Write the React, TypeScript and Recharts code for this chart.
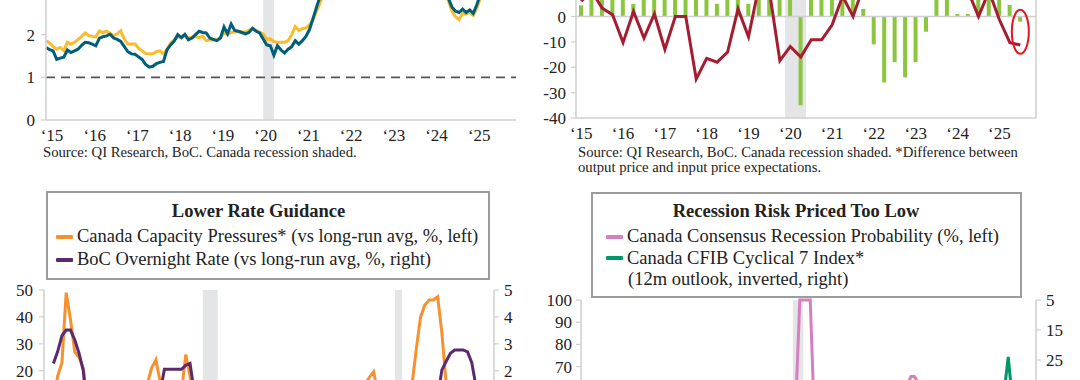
import React from 'react';
import {
  LineChart,
  ComposedChart,
  Line,
  Bar,
  XAxis,
  YAxis,
  ReferenceArea,
  ReferenceLine,
  ReferenceDot,
} from 'recharts';

const FONT = '"Liberation Serif", "Times New Roman", serif';
const AXIS_GREY = '#cfcfcf';
const INK = '#222';
const SHADE = '#e4e5e7';
const TICK_FS = 17;
const LEGEND_FS = 18.5;
const SOURCE_FS = 14.7;

const yearLabels = ['‘15', '‘16', '‘17', '‘18', '‘19', '‘20', '‘21', '‘22', '‘23', '‘24', '‘25'];
const yearTicks = yearLabels.map((_, k) => k * 12); // months since Jan 2015
const covidRecession = [61, 64]; // Feb 2020 - Apr 2020, months since Jan 2015

// ---------- top left: core inflation measures, monthly from Jan 2015
const trimMeasure = [
  1.86, 1.8, 1.72, 1.66, 1.7, 1.63, 1.82, 1.78, 1.82, 1.89, 1.96, 2.04,
  1.98, 1.96, 1.95, 2.09, 2.05, 2.08, 2.03, 1.98, 2.02, 2.09, 1.89, 1.78,
  1.78, 1.78, 1.68, 1.62, 1.56, 1.55, 1.55, 1.6, 1.62, 1.55, 1.66, 1.8,
  1.88, 1.94, 1.96, 1.95, 1.92, 1.94, 1.96, 1.93, 1.96, 1.86, 1.88, 1.87,
  1.88, 1.93, 2.04, 2.0, 2.05, 2.06, 2.07, 2.07, 2.06, 2.1, 2.15, 2.1,
  2.06, 2.02, 1.89, 1.9, 1.84, 1.82, 1.82, 1.82, 1.86, 2.0, 2.19, 2.1,
  2.14, 2.16, 2.23, 2.35, 2.55, 2.75, 3.0, 3.2, 3.4, 3.6, 3.8, 4.1,
  4.4, 4.7, 5.0, 5.2, 5.4, 5.5, 5.4, 5.3, 5.3, 5.2, 5.1, 5.1,
  5.0, 4.8, 4.5, 4.3, 4.0, 3.8, 3.7, 3.8, 3.8, 3.6, 3.5, 3.5,
  3.2, 3.1, 3.0, 2.95, 2.95, 2.8, 2.55, 2.42, 2.35, 2.5, 2.48, 2.52,
  2.45, 2.62, 2.85, 2.95, 3.0, 3.0, 3.05,
];
const medianMeasure = [
  1.7, 1.65, 1.62, 1.42, 1.45, 1.47, 1.64, 1.58, 1.62, 1.66, 1.75, 1.82,
  1.81, 1.78, 1.74, 1.92, 1.95, 1.97, 2.01, 1.92, 1.89, 1.84, 1.72, 1.6,
  1.55, 1.54, 1.48, 1.42, 1.3, 1.24, 1.26, 1.32, 1.35, 1.37, 1.65, 1.76,
  1.85, 2.0, 1.93, 2.01, 1.88, 1.92, 2.0, 2.08, 2.05, 2.04, 1.92, 1.89,
  1.86, 1.92, 2.18, 2.02, 2.25, 2.1, 2.08, 2.05, 2.02, 2.05, 2.15, 2.08,
  2.04, 1.9, 1.76, 1.74, 1.52, 1.74, 1.64, 1.57, 1.66, 1.72, 1.86, 1.78,
  1.86, 1.96, 2.12, 2.38, 2.65, 2.9, 3.1, 3.3, 3.5, 3.6, 3.8, 4.0,
  4.2, 4.5, 4.8, 4.9, 5.1, 5.2, 5.1, 5.0, 5.0, 5.0, 4.9, 4.9,
  4.9, 4.7, 4.4, 4.2, 3.9, 3.7, 3.7, 3.9, 3.8, 3.6, 3.4, 3.5,
  3.2, 3.0, 3.0, 2.95, 3.0, 2.85, 2.65, 2.55, 2.52, 2.6, 2.52, 2.58,
  2.5, 2.7, 2.95, 3.0, 3.0, 3.05, 3.1,
];
const inflationRows = trimMeasure.map((v, i) => ({ m: i, trim: v, median: medianMeasure[i] }));
const inflationTicks = [0, 1, 2]; // the rest of the scale sits above the crop

// ---------- top right: BoC business outlook survey, quarterly 2015Q1 - 2025Q4
const bosYears = [2015, 2016, 2017, 2018, 2019, 2020, 2021, 2022, 2023, 2024, 2025];
const bosQuarters = bosYears.flatMap((y) => ['Q1', 'Q2', 'Q3', 'Q4'].map((q) => `${y}${q}`));
const bosBars = [
  4.4, 12, 9, 14, 11, 5, 10, 13, 12, 15, 17, 9,
  12, 5, 10, 14, 5, 12, 10, 9, 8, -35, 10, 14,
  16, 18, 12, 3, -11, -26, -18, -24, -18, -6, 10, 12,
  1, 1, 8, 12, 10, 4.6, -2, null,
];
const priceGap = [
  6, 10, 3.3, 0.7, -10.3, 2, -8.5, 1, -13, 0, 0, -24.6,
  -16.5, -18, -14, 3, -8, 12, 10, -17.4, -11.8, -16, -9.2, -9.2,
  -3.3, 8, 0, 12, 20, 25, 22, 18, 15, 12, 14, 10,
  12, 10, 0, 10, -1.3, -10.3, -11.2, null,
];
const bosRows = bosQuarters.map((q, i) => ({ q, bars: bosBars[i], gap: priceGap[i] }));
const bosTicks = [-40, -30, -20, -10, 0];

// ---------- bottom left: capacity pressures vs overnight rate, quarterly from 2000Q1
const capStartYear = 2000;
const capacityPressures = [
  8, 18, 23, 49, 39, 27, 25, 21, 8, 2, -5, -10,
  -15, -20, -18, -12, -5, 0, 5, 8, 10, 12, 15, 21,
  24, 16, 8, 6, 8, 10, 12, 26, 18, 5, -5, -20,
  -35, -40, -30, -18, -5, 0, 3, 5, 8, 10, 8, 5,
  3, 0, -3, -5, -8, -10, -8, -5, -2, 0, 2, 5,
  0, -5, -10, -12, -15, -10, -8, -5, 0, 5, 10, 12,
  14, 15, 17.5, 19.5, 12, 10, 8, 6, 0, -35, -20, -5,
  15, 28, 40, 44.4, 46.3, 46.3, 47.5, 34, 15, 6, 0, -5,
  -10, -12, -15, -14, -18, -20,
];
const overnightGap = [
  2.27, 2.71, 3.3, 3.51, 3.51, 3.15, 2.65, 2.0, 0.3, 0.2, 0.5, 0.5,
  0.8, 1.0, 0.5, 0.5, 0.3, 0.0, 0.2, 0.5, 0.5, 0.5, 0.8, 1.0,
  1.3, 1.2, 2.05, 2.05, 2.05, 2.05, 2.05, 2.2, 2.27, 1.2, 0.8, -0.5,
  -1.5, -2.0, -2.0, -2.0, -2.0, -1.7, -1.3, -1.2, -1.2, -1.2, -1.2, -1.2,
  -1.2, -1.2, -1.2, -1.2, -1.2, -1.2, -1.2, -1.2, -1.2, -1.2, -1.2, -1.2,
  -1.5, -1.7, -1.7, -1.7, -1.7, -1.7, -1.7, -1.7, -1.7, -1.7, -1.2, -1.2,
  -1.0, -1.0, -0.7, -0.5, -0.5, -0.5, -0.5, -0.5, -1.0, -2.0, -2.0, -2.0,
  -2.0, -2.0, -2.0, -2.0, -1.8, -0.8, 1.0, 2.03, 2.35, 2.65, 2.77, 2.77,
  2.77, 2.7, 2.3, 1.4, 0.6, 0.5,
];
const capRows = capacityPressures.map((v, i) => ({
  t: capStartYear + i / 4,
  cap: v,
  rate: overnightGap[i],
}));
const capRecessions = [
  [2008.75, 2009.625],
  [2020.0, 2020.42],
];
const capLeftTicks = [20, 30, 40, 50];
const capRightTicks = [2, 3, 4, 5];

// ---------- bottom right: recession probability vs CFIB, monthly from Jan 2015
const recessionProbability = [
  20, 20, 22, 25, 25, 28, 30, 30, 30, 28, 28, 25,
  30, 32, 30, 28, 28, 30, 30, 28, 25, 25, 25, 25,
  20, 20, 18, 18, 18, 18, 18, 18, 20, 20, 20, 20,
  20, 20, 22, 22, 25, 25, 25, 25, 25, 25, 28, 30,
  30, 30, 35, 35, 35, 35, 35, 38, 38, 35, 35, 30,
  25, 25, 60, 100, 100, 100, 100, 55, 45, 40, 40, 35,
  30, 30, 25, 20, 20, 20, 20, 20, 20, 20, 20, 20,
  20, 20, 25, 30, 35, 40, 45, 50, 55, 60, 62, 65.5,
  65.5, 63, 60, 60, 58, 55, 50, 50, 50, 48, 45, 40,
  40, 38, 35, 35, 33, 30, 30, 30, 28, 28, 30, 30,
  35, 40, 45, 55, 50, 45, 40,
];
const cfibCyclical = [
  62, 62, 61, 61, 60, 60, 60, 59, 59, 60, 60, 60,
  58, 58, 59, 59, 60, 61, 61, 61, 62, 62, 62, 63,
  64, 65, 65, 65, 66, 66, 66, 67, 66, 66, 65, 65,
  64, 64, 63, 63, 62, 62, 61, 61, 62, 61, 60, 60,
  60, 59, 59, 60, 60, 61, 60, 60, 59, 58, 58, 59,
  60, 60, 45, 38, 42, 46, 50, 52, 54, 55, 56, 58,
  60, 62, 64, 66, 67, 68, 68, 68, 67, 67, 66, 65,
  64, 64, 62, 60, 55, 50, 45, 43, 44, 45, 44, 43,
  44, 45, 46, 48, 50, 50, 51, 52, 51, 50, 50, 52,
  54, 55, 56, 56, 56, 55, 55, 56, 57, 57, 58, 58,
  52, 42, 34, 24, 36, 44, 48,
];
const riskRows = recessionProbability.map((v, i) => ({ m: i, prob: v, cfib: cfibCyclical[i] }));
const probTicks = [70, 80, 90, 100];
const cfibTicks = [5, 15, 25];

const tickStyle = { fill: INK, fontSize: TICK_FS, fontFamily: FONT };
const axisLine = { stroke: AXIS_GREY, strokeWidth: 1.5 };
const tickLine = { stroke: AXIS_GREY, strokeWidth: 1.2 };

function Note({ x, cy, size = SOURCE_FS, bold = false, center = false, children }: any) {
  return (
    <div
      style={{
        position: 'absolute',
        left: x,
        top: cy - size * 0.52,
        fontSize: size,
        lineHeight: 1,
        fontWeight: bold ? 700 : 400,
        whiteSpace: 'nowrap',
        color: INK,
        transform: center ? 'translateX(-50%)' : undefined,
      }}
    >
      {children}
    </div>
  );
}

function Swatch({ x, cy, color }: any) {
  return (
    <div
      style={{ position: 'absolute', left: x, top: cy - 2, width: 17, height: 4, background: color, borderRadius: 1 }}
    />
  );
}

function Box({ x, y, w, h }: any) {
  return (
    <div
      style={{
        position: 'absolute',
        left: x,
        top: y,
        width: w,
        height: h,
        border: '2px solid #9c9c9c',
        boxSizing: 'border-box',
        background: '#fff',
      }}
    />
  );
}

const RedCircle = (p: any) => (
  <ellipse cx={p.cx} cy={p.cy} rx={8.5} ry={22} fill="none" stroke="#e5141d" strokeWidth={2} />
);

function CoreInflation() {
  return (
    <div style={{ position: 'absolute', left: 0, top: -180 }}>
      <LineChart width={540} height={330} data={inflationRows} margin={{ top: 44, right: 24, bottom: 0, left: 0 }}>
        <ReferenceArea x1={covidRecession[0]} x2={covidRecession[1]} fill={SHADE} fillOpacity={1} stroke="none" />
        <XAxis
          type="number"
          dataKey="m"
          domain={[0, 132]}
          ticks={yearTicks}
          interval={0}
          tickFormatter={(m: number) => yearLabels[m / 12]}
          tickLine={false}
          axisLine={axisLine}
          tick={{ ...tickStyle, dx: 6 }}
          tickSize={4}
          tickMargin={5}
          height={30}
        />
        <YAxis
          type="number"
          domain={[0, 6]}
          ticks={inflationTicks}
          interval={0}
          width={46}
          axisLine={axisLine}
          tickLine={tickLine}
          tickSize={5}
          tickMargin={6}
          tick={tickStyle}
        />
        <ReferenceLine y={1} stroke="#555" strokeDasharray="9 6" strokeWidth={1.6} />
        <Line dataKey="trim" stroke="#fbbb2c" strokeWidth={3} dot={false} isAnimationActive={false} />
        <Line dataKey="median" stroke="#005e7a" strokeWidth={3} dot={false} isAnimationActive={false} />
      </LineChart>
    </div>
  );
}

function BusinessOutlook() {
  return (
    <div style={{ position: 'absolute', left: 540, top: -120 }}>
      <ComposedChart width={540} height={268} data={bosRows} margin={{ top: 35, right: 0, bottom: 0, left: 0 }}>
        <ReferenceArea yAxisId="l" x1="2020Q1" x2="2020Q2" fill={SHADE} fillOpacity={1} stroke="none" />
        <XAxis
          dataKey="q"
          interval={3}
          tickFormatter={(q: string) => '‘' + q.slice(2, 4)}
          tickLine={false}
          axisLine={axisLine}
          tick={tickStyle}
          tickSize={4}
          tickMargin={5}
          height={30}
        />
        <YAxis
          yAxisId="l"
          domain={[-40, 40]}
          ticks={bosTicks}
          interval={0}
          width={36}
          axisLine={axisLine}
          tickLine={tickLine}
          tickSize={5}
          tickMargin={5}
          tick={tickStyle}
        />
        <YAxis
          yAxisId="r"
          orientation="right"
          domain={[-40, 40]}
          ticks={bosTicks}
          interval={0}
          width={44}
          axisLine={axisLine}
          tickLine={tickLine}
          tickSize={5}
          tickMargin={5}
          tick={tickStyle}
        />
        <ReferenceLine yAxisId="l" y={0} stroke={AXIS_GREY} strokeWidth={1.5} />
        <Bar yAxisId="l" dataKey="bars" fill="#8cc63f" barSize={4} isAnimationActive={false} />
        <Line yAxisId="l" dataKey="gap" stroke="#a61c31" strokeWidth={3} dot={false} isAnimationActive={false} />
        <ReferenceDot yAxisId="l" x="2025Q3" y={-6} shape={RedCircle} />
      </ComposedChart>
    </div>
  );
}

function RateGuidance() {
  return (
    <div style={{ position: 'absolute', left: 0, top: 250 }}>
      <LineChart width={540} height={340} data={capRows} margin={{ top: 40, right: 0, bottom: 0, left: 0 }}>
        {capRecessions.map(([a, b]) => (
          <ReferenceArea key={a} yAxisId="l" x1={a} x2={b} fill={SHADE} fillOpacity={1} stroke="none" />
        ))}
        <XAxis
          type="number"
          dataKey="t"
          domain={[1999.45, 2025.8]}
          tick={false}
          tickLine={false}
          axisLine={axisLine}
          height={31}
        />
        <YAxis
          yAxisId="l"
          domain={[-50, 50]}
          ticks={capLeftTicks}
          interval={0}
          width={44}
          axisLine={axisLine}
          tickLine={tickLine}
          tickSize={5}
          tickMargin={6}
          tick={tickStyle}
        />
        <YAxis
          yAxisId="r"
          orientation="right"
          domain={[-5, 5]}
          ticks={capRightTicks}
          interval={0}
          width={46}
          axisLine={axisLine}
          tickLine={tickLine}
          tickSize={5}
          tickMargin={5}
          tick={tickStyle}
        />
        <Line yAxisId="l" dataKey="cap" stroke="#f7902f" strokeWidth={3} dot={false} isAnimationActive={false} />
        <Line yAxisId="r" dataKey="rate" stroke="#5b2a6e" strokeWidth={3} dot={false} isAnimationActive={false} />
      </LineChart>
    </div>
  );
}

function RecessionRisk() {
  return (
    <div style={{ position: 'absolute', left: 540, top: 260 }}>
      <LineChart width={540} height={292} data={riskRows} margin={{ top: 40, right: 0, bottom: 0, left: 0 }}>
        <ReferenceArea yAxisId="l" x1={covidRecession[0]} x2={covidRecession[1]} fill={SHADE} fillOpacity={1} stroke="none" />
        <XAxis
          type="number"
          dataKey="m"
          domain={[0, 131]}
          tick={false}
          tickLine={false}
          axisLine={axisLine}
          height={30}
        />
        <YAxis
          yAxisId="l"
          domain={[0, 100]}
          ticks={probTicks}
          interval={0}
          width={41}
          axisLine={axisLine}
          tickLine={tickLine}
          tickSize={5}
          tickMargin={4}
          tick={tickStyle}
        />
        <YAxis
          yAxisId="r"
          orientation="right"
          reversed
          domain={[5, 79]}
          ticks={cfibTicks}
          interval={0}
          width={44}
          axisLine={axisLine}
          tickLine={tickLine}
          tickSize={5}
          tickMargin={5}
          tick={tickStyle}
        />
        <Line yAxisId="r" dataKey="cfib" stroke="#00976c" strokeWidth={3} dot={false} isAnimationActive={false} />
        <Line yAxisId="l" dataKey="prob" stroke="#d57fc0" strokeWidth={3} dot={false} isAnimationActive={false} />
      </LineChart>
    </div>
  );
}

export default function App() {
  return (
    <div
      style={{
        position: 'fixed',
        left: 0,
        top: 0,
        width: 1080,
        height: 380,
        overflow: 'hidden',
        background: '#fff',
        fontFamily: FONT,
      }}
    >
      <CoreInflation />
      <BusinessOutlook />
      <RateGuidance />
      <RecessionRisk />

      <Note x={43} cy={153}>Source: QI Research, BoC. Canada recession shaded.</Note>
      <Note x={578} cy={153}>Source: QI Research, BoC. Canada recession shaded. *Difference between</Note>
      <Note x={578} cy={167.5}>output price and input price expectations.</Note>

      <Box x={46} y={191} w={444} h={89} />
      <Note x={258.5} cy={211.7} size={LEGEND_FS} bold center>Lower Rate Guidance</Note>
      <Swatch x={55.5} cy={236.7} color="#f7902f" />
      <Note x={77} cy={236.7} size={LEGEND_FS}>Canada Capacity Pressures* (vs long-run avg, %, left)</Note>
      <Swatch x={55.5} cy={260} color="#5b2a6e" />
      <Note x={77} cy={260} size={LEGEND_FS}>BoC Overnight Rate (vs long-run avg, %, right)</Note>

      <Box x={591} y={192} w={431} h={106} />
      <Note x={796} cy={211.7} size={LEGEND_FS} bold center>Recession Risk Priced Too Low</Note>
      <Swatch x={606} cy={236.7} color="#d57fc0" />
      <Note x={627} cy={236.7} size={LEGEND_FS}>Canada Consensus Recession Probability (%, left)</Note>
      <Swatch x={606} cy={258.3} color="#00976c" />
      <Note x={627} cy={258.3} size={LEGEND_FS}>Canada CFIB Cyclical 7 Index*</Note>
      <Note x={628} cy={279.3} size={LEGEND_FS}>(12m outlook, inverted, right)</Note>
    </div>
  );
}
